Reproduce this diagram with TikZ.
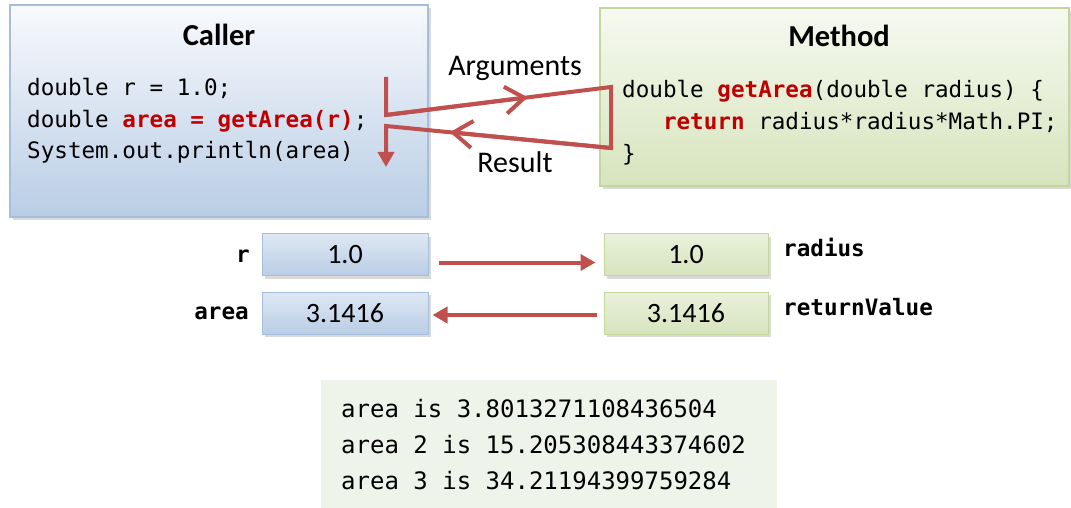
\documentclass[tikz,border=0pt]{standalone}
\usepackage{fontspec}
\setmainfont{Carlito}
\newfontfamily\codefont{DejaVu Sans Mono}
\usepackage{xcolor}
\usepackage{tikz}
\usetikzlibrary{arrows.meta,calc,shadows}
\definecolor{callerTop}{HTML}{F8FAFD}
\definecolor{callerBot}{HTML}{B9CDE5}
\definecolor{callerLine}{HTML}{A6BEDD}
\definecolor{methodTop}{HTML}{F6F9F0}
\definecolor{methodBot}{HTML}{D7E4BD}
\definecolor{methodLine}{HTML}{C3D69B}
\definecolor{flowRed}{HTML}{C0504D}
\definecolor{codeRed}{HTML}{C00000}
\definecolor{outFill}{HTML}{EEF4EA}

\begin{document}
\begin{tikzpicture}[x=1pt,y=-1pt,
  boxshadow/.style={drop shadow={shadow xshift=3pt,shadow yshift=-3pt,opacity=0.3}},
  callerbox/.style={draw=callerLine,line width=1.5pt,top color=callerTop,bottom color=callerBot,boxshadow,inner sep=0pt},
  methodbox/.style={draw=methodLine,line width=1.5pt,top color=methodTop,bottom color=methodBot,boxshadow,inner sep=0pt},
  valbox/.style={line width=1pt,minimum height=42pt,inner sep=0pt,boxshadow,
    font=\fontsize{28pt}{30pt}\selectfont},
  blueval/.style={valbox,draw=callerLine,top color=callerTop!60!callerBot,bottom color=callerBot,minimum width=166pt},
  greenval/.style={valbox,draw=methodLine,top color=methodTop!60!methodBot,bottom color=methodBot,minimum width=164pt},
  title/.style={anchor=base,inner sep=0pt,font=\bfseries\fontsize{30.5pt}{33pt}\selectfont},
  note/.style={anchor=base,inner sep=0pt,font=\fontsize{30pt}{33pt}\selectfont},
  code/.style={anchor=base west,inner sep=0pt,text=black,font=\codefont\fontsize{22.6pt}{26pt}\selectfont},
  varname/.style={inner sep=0pt,text=black,font=\codefont\bfseries\fontsize{22.6pt}{26pt}\selectfont},
  outline/.style={anchor=base west,inner sep=0pt,text=black,font=\codefont\fontsize{24pt}{28pt}\selectfont},
  flow/.style={draw=flowRed,line width=4pt},
  barb/.style={-{Straight Barb[length=19pt,width=27pt]}},
  tip/.style={-{Triangle[length=15pt,width=16pt]}}]
\useasboundingbox (0,0) rectangle (1071,508);

% caller side
\node[callerbox,minimum width=418pt,minimum height=212pt] (caller) at (219,111) {};
\node[title] (callerT) at (219,46) {Caller};
\node[code] (cl1) at (27,96) {double r = 1.0;};
\node[code] (cl2) at (27,128) {double \textcolor{codeRed}{\bfseries area = getArea(r)};};
\node[code] (cl3) at (27,159) {System.out.println(area)};

% method side
\node[methodbox,minimum width=469pt,minimum height=178pt] (method) at (834.5,97) {};
\node[title] (methodT) at (839,47) {Method};
\node[code] (ml1) at (622,98) {double \textcolor{codeRed}{\bfseries getArea}(double radius) \{};
\node[code] (ml2) at (622,130) {\hphantom{xxx}\textcolor{codeRed}{\bfseries return} radius*radius*Math.PI;};
\node[code] (ml3) at (622,161) {\}};

\node[note] (args) at (515,76) {Arguments};
\node[note] (res) at (515,172) {Result};

% call and return path
\coordinate (c1) at (386,77);
\coordinate (c2) at (386,115);
\coordinate (m1) at (611,87);
\coordinate (m2) at (611,148);
\coordinate (c3) at (386,126);
\coordinate (c4) at (386,167);
\draw[flow,tip] (c1) -- (c2) -- (m1) -- (m2) -- (c3) -- (c4);
\draw[flow,barb] (c2) -- ($(c2)!0.63!(m1)$);
\draw[flow,barb] (m2) -- ($(m2)!0.716!(c3)$);

% values
\node[blueval] (rv) at (345,254.5) {1.0};
\node[blueval] (areav) at (345,313) {3.1416};
\node[greenval] (radv) at (686,254.5) {1.0};
\node[greenval] (retv) at (686,313) {3.1416};
\node[varname,anchor=base east] (rlab) at (250,262) {r};
\node[varname,anchor=base east] (arealab) at (249,319) {area};
\node[varname,anchor=base west] (radlab) at (783,256) {radius};
\node[varname,anchor=base west] (retlab) at (783,315) {returnValue};
\draw[flow,tip,shorten <=10pt,shorten >=8pt] ([yshift=-8pt]rv.east) -- ([yshift=-8pt]radv.west);
\draw[flow,tip,shorten <=7pt,shorten >=4pt] ([yshift=-2pt]retv.west) -- ([yshift=-2pt]areav.east);

% console output
\node[fill=outFill,minimum width=456pt,minimum height=128pt,inner sep=0pt] (out) at (549,444) {};
\node[outline] (o1) at (341,417) {area is 3.8013271108436504};
\node[outline] (o2) at (341,453) {area 2 is 15.205308443374602};
\node[outline] (o3) at (341,489) {area 3 is 34.21194399759284};
\end{tikzpicture}
\end{document}
